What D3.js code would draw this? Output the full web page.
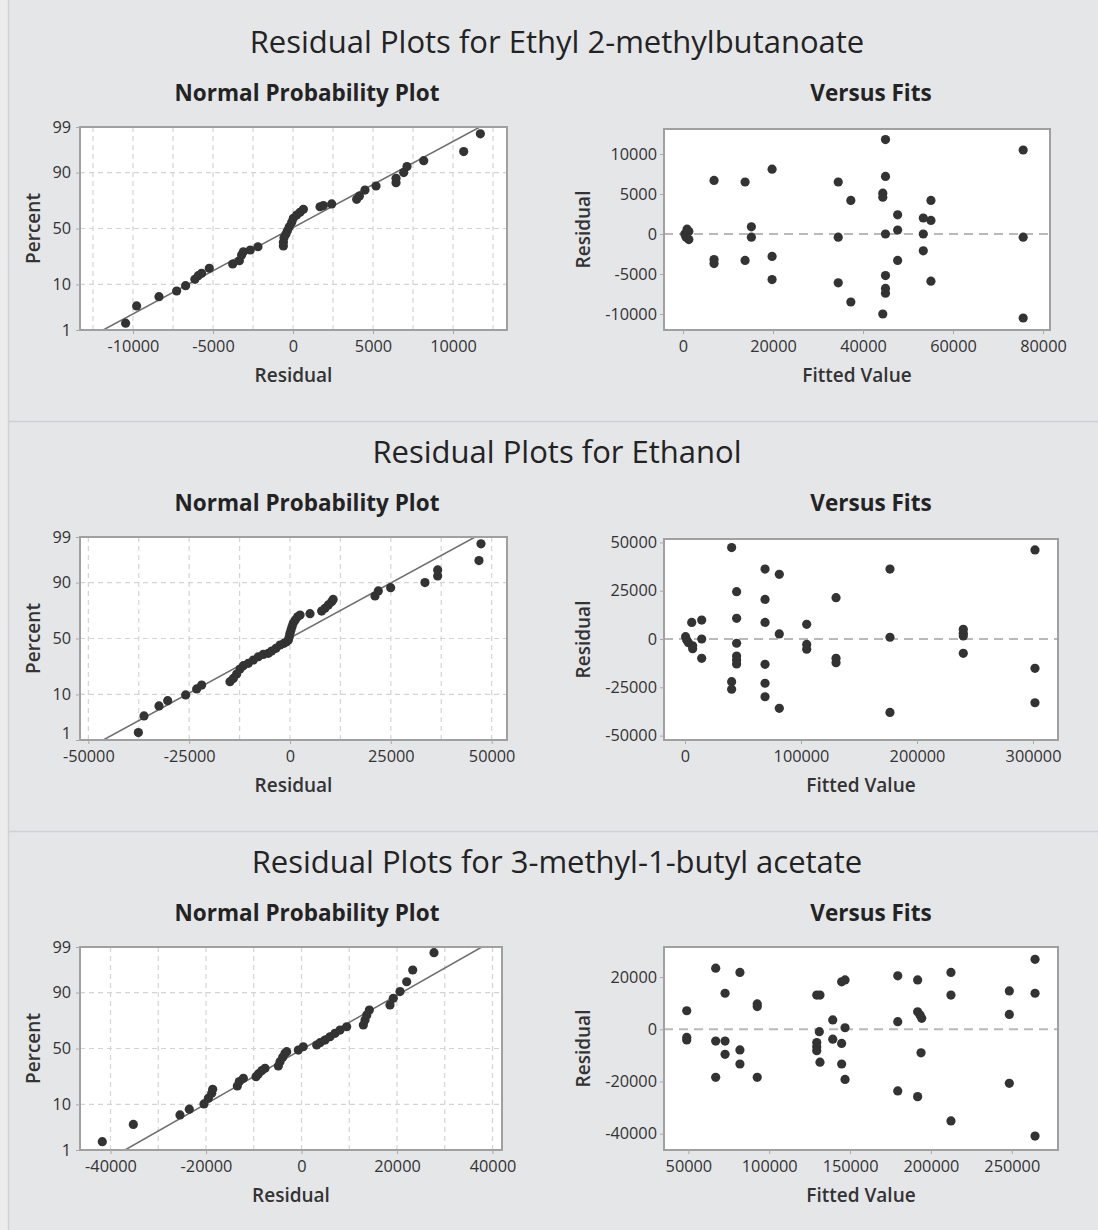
<!DOCTYPE html>
<html>
<head>
<meta charset="utf-8">
<script src="https://cdn.jsdelivr.net/npm/d3@7"></script>
<style>
  html, body { margin: 0; padding: 0; background: #ececec; }
  svg { display: block; }
  text { font-family: "Open Sans", "Noto Sans", sans-serif; }
</style>
</head>
<body>
<svg id="chart" width="1098" height="1230"></svg>
<script>
// ---- Data -----------------------------------------------------------------
const compounds = ["Ethyl 2-methylbutanoate", "Ethanol", "3-methyl-1-butyl acetate"];
const pctTicks = [1, 10, 50, 90, 99];
const pctGrid = [10, 50, 90];

// Ethyl 2-methylbutanoate: normal probability plot (residual, percent)
const ethylNppResidual = [-10460, -9770, -8375, -7270, -6710, -6130, -5920, -5710, -5230, -3770,
  -3350, -3210, -3100, -2670, -2190, -600, -600, -560, -440, -350, -230, -80, 20, 230, 440, 650,
  1690, 1900, 2420, 3980, 4150, 4500, 5190, 6440, 6440, 6920, 7125, 8170, 10670, 11710];
const ethylNppPercent = [1.5, 3.8, 5.9, 7.6, 9.5, 12.2, 14.0, 15.2, 18.1, 20.8,
  23.0, 27.2, 29.7, 31.1, 33.8, 34.4, 37.6, 41.7, 45.0, 48.0, 51.6, 55.6, 59.2, 62.1, 64.5, 67.0,
  69.1, 70.0, 71.3, 74.8, 77.2, 81.1, 83.5, 85.3, 87.5, 90.0, 92.2, 94.0, 96.1, 98.5];
const ethylNppFit = [-92, 5058];           // mean, standard deviation of the reference line
const ethylNppXTicks = [-10000, -5000, 0, 5000, 10000];
// Ethyl 2-methylbutanoate: versus fits
const ethylFitted = [900, 1300, 400, 700, 1300, 6900, 6900, 6900, 13800, 13800, 15200, 15200,
  19800, 19800, 19800, 34500, 34500, 34500, 37300, 37300, 45000, 45000, 44400, 44400, 45000,
  45000, 45000, 45000, 44400, 47700, 47700, 47700, 53400, 55100, 53400, 53400, 55100, 55100,
  75600, 75600, 75600];
const ethylResidual = [600, 300, 0, -400, -700, 6700, -3200, -3700, 6500, -3300, 900, -400,
  8100, -2800, -5700, 6500, -400, -6100, 4200, -8500, 11800, 7200, 5100, 4600, 0,
  -5200, -6800, -7400, -10000, 2400, 500, -3300, 2000, 1700, 0, -2100, 4200, -5900,
  10500, -400, -10500];
const ethylFitXTicks = [0, 20000, 40000, 60000, 80000];
const ethylFitYTicks = [-10000, -5000, 0, 5000, 10000];

// Ethanol: normal probability plot
const ethanolNppResidual = [-37600, -36200, -32480, -30330, -25870, -23140, -21900, -14880, -14050,
  -13220, -12400, -11570, -10330, -9090, -7850, -6610, -5370, -4550, -3470, -2480, -1490, -830,
  -400, -170, 0, 250, 500, 800, 1300, 1900, 2500, 4960, 7850, 8680, 9500, 10330, 10700,
  21080, 21900, 24960, 33470, 36620, 36620, 46860, 47360];
const ethanolNppPercent = [1.55, 3.8, 6.1, 7.7, 9.8, 12.4, 14.3, 16.1, 18.0,
  20.8, 24.2, 26.7, 28.5, 31.1, 33.8, 35.8, 36.7, 38.7, 41.1, 44.1, 45.6, 47.1,
  48.6, 51.6, 54.7, 57.7, 60.6, 63.6, 66.4, 69.1, 70.5, 71.5, 73.5, 75.6, 77.9, 80.0, 81.5,
  83.5, 86.2, 87.8, 90.0, 92.4, 94.2, 96.3, 98.5];
const ethanolNppFit = [-210, 19810];
const ethanolNppXTicks = [-50000, -25000, 0, 25000, 50000];
// Ethanol: versus fits
const ethanolFitted = [500, 1500, 3000, 6600, 6600, 5800, 14400, 14400, 14400, 40200, 44500, 44500,
  44500, 44500, 44500, 44500, 40200, 40200, 69000, 69000, 69000, 69000, 69000, 69000, 81300,
  81300, 81300, 104900, 104900, 104900, 130200, 130200, 130200, 176700, 176700, 176700,
  239900, 239900, 239900, 239900, 301700, 301700, 301700];
const ethanolResidual = [1200, -500, -1900, -3500, -5000, 8600, 9800, 0, -10000, 47300, 24500, 10700,
  -2200, -8800, -10900, -12900, -22100, -26000, 36200, 20500, 8600, -13100, -22900, -29900, 33500,
  2600, -35900, 7600, -2800, -5300, 21400, -10000, -12300, 36200, 900, -38000,
  5000, 3000, 1600, -7400, 46100, -15200, -33000];
const ethanolFitXTicks = [0, 100000, 200000, 300000];
const ethanolFitYTicks = [-50000, -25000, 0, 25000, 50000];

// 3-methyl-1-butyl acetate: normal probability plot
const acetateNppResidual = [-41720, -35220, -25450, -23500, -20420, -19510, -18810, -18600, -13440,
  -13020, -12180, -9530, -9040, -8340, -7640, -4850, -4500, -3940, -3460, -3100, -670, 370,
  3180, 3880, 4930, 5970, 7020, 8070, 9460, 12950, 13300, 13660, 14210, 18530, 19230, 20630,
  22030, 23290, 27750];
const acetateNppPercent = [1.64, 4.1, 6.4, 8.2, 10.2, 12.7, 15.2, 17.5, 19.5,
  22.4, 24.7, 25.9, 28.0, 30.6, 32.5, 34.4, 38.1, 42.0, 45.6, 47.1, 48.6, 51.6,
  53.2, 55.3, 57.7, 60.6, 63.6, 66.4, 69.1, 70.5, 74.3, 77.9, 81.1, 84.1, 87.5, 90.4,
  93.7, 96.4, 98.6];
const acetateNppFit = [390, 16060];
const acetateNppXTicks = [-40000, -20000, 0, 20000, 40000];
// 3-methyl-1-butyl acetate: versus fits
const acetateFitted = [49000, 49000, 49000, 66900, 66900, 66900, 72700, 72700, 72700, 81900, 81900,
  81900, 92600, 92600, 92600, 129400, 131400, 131000, 129400, 129400, 129400, 131400, 139300,
  139300, 144800, 146900, 146900, 144800, 144800, 146900, 179500, 179500, 179500, 191800, 191800,
  193300, 194300, 193900, 191800, 212400, 212400, 212400, 248500, 248500, 248500, 264400,
  264400, 264400];
const acetateResidual = [7100, -3100, -4100, 23400, -4500, -18400, 13800, -4500, -9600, 21800, -7900,
  -13300, 9700, 8700, -18400, 13100, 13100, -900, -5100, -6700, -8200, -12600, 3600,
  -3800, 18200, 18900, 600, -5400, -13300, -19200, 20500, 2900, -23600, 18900, 6700,
  5500, 4200, -9000, -25800, 21800, 13100, -35100, 14700, 5700, -20700, 26800,
  13800, -40900];
const acetateFitXTicks = [50000, 100000, 150000, 200000, 250000];
const acetateFitYTicks = [-40000, -20000, 0, 20000];

// ---- Helpers ----------------------------------------------------------------
// Inverse standard normal CDF (Acklam's rational approximation)
function probit(p) {
  const a = [-3.969683028665376e+01, 2.209460984245205e+02, -2.759285104469687e+02,
             1.383577518672690e+02, -3.066479806614716e+01, 2.506628277459239e+00];
  const b = [-5.447609879822406e+01, 1.615858368580409e+02, -1.556989798598866e+02,
             6.680131188771972e+01, -1.328068155288572e+01];
  const c = [-7.784894002430293e-03, -3.223964580411365e-01, -2.400758277161838e+00,
             -2.549671010229528e+00, 4.374664141464968e+00, 2.938163982698783e+00];
  const d = [7.784695709041462e-03, 3.224671290700398e-01, 2.445134137142996e+00,
             3.754408661907416e+00];
  const pl = 0.02425, ph = 1 - pl;
  let q, r;
  if (p < pl) {
    q = Math.sqrt(-2 * Math.log(p));
    return (((((c[0]*q+c[1])*q+c[2])*q+c[3])*q+c[4])*q+c[5]) / ((((d[0]*q+d[1])*q+d[2])*q+d[3])*q+1);
  }
  if (p <= ph) {
    q = p - 0.5; r = q * q;
    return (((((a[0]*r+a[1])*r+a[2])*r+a[3])*r+a[4])*r+a[5])*q / (((((b[0]*r+b[1])*r+b[2])*r+b[3])*r+b[4])*r+1);
  }
  q = Math.sqrt(-2 * Math.log(1 - p));
  return -(((((c[0]*q+c[1])*q+c[2])*q+c[3])*q+c[4])*q+c[5]) / ((((d[0]*q+d[1])*q+d[2])*q+d[3])*q+1);
}

const fmt = d3.formatLocale({decimal: ".", thousands: "", grouping: [3], currency: ["", ""], minus: "-"}).format("d");

const panels = [
  { title: compounds[0],
    npp: { res: ethylNppResidual, pct: ethylNppPercent, fit: ethylNppFit, xTicks: ethylNppXTicks,
           xDomain: [-13310, 13375], gridStep: 2500, box: [80, 127, 507, 330] },
    vf:  { x: ethylFitted, y: ethylResidual, xTicks: ethylFitXTicks, yTicks: ethylFitYTicks,
           xDomain: [-4220, 81560], yDomain: [-12000, 13125], box: [664, 129, 1050, 330] } },
  { title: compounds[1],
    npp: { res: ethanolNppResidual, pct: ethanolNppPercent, fit: ethanolNppFit, xTicks: ethanolNppXTicks,
           xDomain: [-52070, 53810], gridStep: 12500, box: [80, 537, 507, 740] },
    vf:  { x: ethanolFitted, y: ethanolResidual, xTicks: ethanolFitXTicks, yTicks: ethanolFitYTicks,
           xDomain: [-18100, 321550], yDomain: [-52280, 51760], box: [664, 539, 1058, 740] } },
  { title: compounds[2],
    npp: { res: acetateNppResidual, pct: acetateNppPercent, fit: acetateNppFit, xTicks: acetateNppXTicks,
           xDomain: [-46390, 41990], gridStep: 10000, box: [80, 947, 502, 1150] },
    vf:  { x: acetateFitted, y: acetateResidual, xTicks: acetateFitXTicks, yTicks: acetateFitYTicks,
           xDomain: [34940, 278600], yDomain: [-46250, 31530], box: [664, 947, 1058, 1150] } }
];

// ---- Style ------------------------------------------------------------------
const BG = "#e5e6e8", FRAME = "#a0a0a0", GRID = "#d4d4d4", DOT = "#333333", INK = "#232323";
const TICK_FONT = 16.3, R = 4.6;

const svg = d3.select("#chart");
svg.append("rect").attr("width", 1098).attr("height", 1230).attr("fill", "#ececec");
svg.append("rect").attr("x", 8).attr("y", 0).attr("width", 1090).attr("height", 1230)
  .attr("fill", BG);
svg.append("line").attr("x1", 8.5).attr("x2", 8.5).attr("y1", 0).attr("y2", 1230)
  .attr("stroke", "#d2d2d4").attr("stroke-width", 1.5);
[421.5, 831.5].forEach(y => {
  svg.append("line").attr("x1", 9).attr("x2", 1098).attr("y1", y).attr("y2", y)
    .attr("stroke", "#cfd0d2").attr("stroke-width", 1.5);
});

function styleAxis(g) {
  g.select(".domain").remove();
  g.selectAll(".tick line").attr("stroke", "#a8a8a8");
  g.selectAll(".tick text").attr("fill", "#333").style("font-size", TICK_FONT + "px")
    .style("font-family", '"Open Sans", "Noto Sans", sans-serif');
}

function frame(g, box) {
  g.append("rect").attr("x", box[0]).attr("y", box[1])
    .attr("width", box[2] - box[0]).attr("height", box[3] - box[1])
    .attr("fill", "#fff");
}
function frameBorder(g, box) {
  g.append("rect").attr("x", box[0]).attr("y", box[1])
    .attr("width", box[2] - box[0]).attr("height", box[3] - box[1])
    .attr("fill", "none").attr("stroke", FRAME).attr("stroke-width", 2);
}

// Lift a label upward until it clears another label's box
function separate(upper, lower) {
  const a = upper.getBoundingClientRect(), b = lower.getBoundingClientRect();
  const overlapX = a.right > b.left && b.right > a.left;
  const overlapY = a.bottom - b.top;
  if (overlapX && overlapY > 0) {
    const y0 = +upper.getAttribute("y") || 0;
    upper.setAttribute("y", y0 - overlapY - 1);
  }
}

panels.forEach((p, k) => {
  const off = 410 * k;
  const g = svg.append("g");

  // Block title
  g.append("text").attr("x", 557).attr("y", 53 + off).attr("text-anchor", "middle")
    .attr("fill", INK).style("font-size", "31px").style("font-weight", 500)
    .text("Residual Plots for " + p.title);
  g.append("text").attr("x", 307).attr("y", 101 + off).attr("text-anchor", "middle")
    .attr("fill", INK).style("font-size", "22.5px").style("font-weight", 700)
    .text("Normal Probability Plot");
  g.append("text").attr("x", 871).attr("y", 101 + off).attr("text-anchor", "middle")
    .attr("fill", INK).style("font-size", "22.5px").style("font-weight", 700)
    .text("Versus Fits");

  // ---- Normal probability plot ----
  const n = p.npp, b = n.box;
  const x = d3.scaleLinear().domain(n.xDomain).range([b[0], b[2]]);
  const z = d3.scaleLinear().domain([probit(0.01), probit(0.99)]).range([b[3], b[1]]);
  const yPct = v => z(probit(v / 100));
  frame(g, b);

  const clipId = "clip-npp-" + k;
  g.append("clipPath").attr("id", clipId).append("rect")
    .attr("x", b[0]).attr("y", b[1]).attr("width", b[2] - b[0]).attr("height", b[3] - b[1]);

  const gridX = d3.range(Math.ceil(n.xDomain[0] / n.gridStep) * n.gridStep, n.xDomain[1], n.gridStep);
  g.append("g").selectAll("line").data(gridX).join("line")
    .attr("x1", d => x(d)).attr("x2", d => x(d)).attr("y1", b[1]).attr("y2", b[3])
    .attr("stroke", GRID).attr("stroke-width", 1.2).attr("stroke-dasharray", "5,4");
  g.append("g").selectAll("line").data(pctGrid).join("line")
    .attr("x1", b[0]).attr("x2", b[2]).attr("y1", d => yPct(d)).attr("y2", d => yPct(d))
    .attr("stroke", GRID).attr("stroke-width", 1.2).attr("stroke-dasharray", "5,4");

  // Fitted normal reference line
  const [mu, sd] = n.fit;
  g.append("line").attr("clip-path", `url(#${clipId})`)
    .attr("x1", x(mu + sd * probit(0.01))).attr("y1", yPct(1))
    .attr("x2", x(mu + sd * probit(0.99))).attr("y2", yPct(99))
    .attr("stroke", "#6e6e6e").attr("stroke-width", 1.5);

  g.append("g").selectAll("circle").data(d3.zip(n.res, n.pct)).join("circle")
    .attr("cx", d => x(d[0])).attr("cy", d => yPct(d[1])).attr("r", R).attr("fill", DOT);

  frameBorder(g, b);

  const xAxisG = g.append("g").attr("transform", `translate(0,${b[3]})`)
    .call(d3.axisBottom(x).tickValues(n.xTicks).tickFormat(fmt).tickSize(4).tickPadding(6))
    .call(styleAxis);
  const yAxisG = g.append("g").attr("transform", `translate(${b[0]},0)`)
    .call(d3.axisLeft(z).tickValues(pctTicks.map(v => probit(v / 100)))
      .tickFormat((d, i) => pctTicks[i]).tickSize(4).tickPadding(5))
    .call(styleAxis);
  separate(yAxisG.select(".tick text").node(), xAxisG.select(".tick text").node());

  g.append("text").attr("x", (b[0] + b[2]) / 2).attr("y", b[3] + 52).attr("text-anchor", "middle")
    .attr("fill", "#333").style("font-size", "19px").style("font-weight", 600).text("Residual");
  g.append("text").attr("transform", `translate(40,${(b[1] + b[3]) / 2}) rotate(-90)`)
    .attr("text-anchor", "middle").attr("fill", "#333")
    .style("font-size", "19px").style("font-weight", 600).text("Percent");

  // ---- Versus fits ----
  const v = p.vf, c = v.box;
  const fx = d3.scaleLinear().domain(v.xDomain).range([c[0], c[2]]);
  const fy = d3.scaleLinear().domain(v.yDomain).range([c[3], c[1]]);
  frame(g, c);
  g.append("line").attr("x1", c[0]).attr("x2", c[2]).attr("y1", fy(0)).attr("y2", fy(0))
    .attr("stroke", "#b9b9b9").attr("stroke-width", 2).attr("stroke-dasharray", "9,6");
  g.append("g").selectAll("circle").data(d3.zip(v.x, v.y)).join("circle")
    .attr("cx", d => fx(d[0])).attr("cy", d => fy(d[1])).attr("r", R).attr("fill", DOT);
  frameBorder(g, c);

  g.append("g").attr("transform", `translate(0,${c[3]})`)
    .call(d3.axisBottom(fx).tickValues(v.xTicks).tickFormat(fmt).tickSize(4).tickPadding(6))
    .call(styleAxis);
  g.append("g").attr("transform", `translate(${c[0]},0)`)
    .call(d3.axisLeft(fy).tickValues(v.yTicks).tickFormat(fmt).tickSize(4).tickPadding(3))
    .call(styleAxis);

  g.append("text").attr("x", (c[0] + c[2]) / 2).attr("y", c[3] + 52).attr("text-anchor", "middle")
    .attr("fill", "#333").style("font-size", "19px").style("font-weight", 600).text("Fitted Value");
  g.append("text").attr("transform", `translate(590,${(c[1] + c[3]) / 2}) rotate(-90)`)
    .attr("text-anchor", "middle").attr("fill", "#333")
    .style("font-size", "19px").style("font-weight", 600).text("Residual");
});
</script>
</body>
</html>
